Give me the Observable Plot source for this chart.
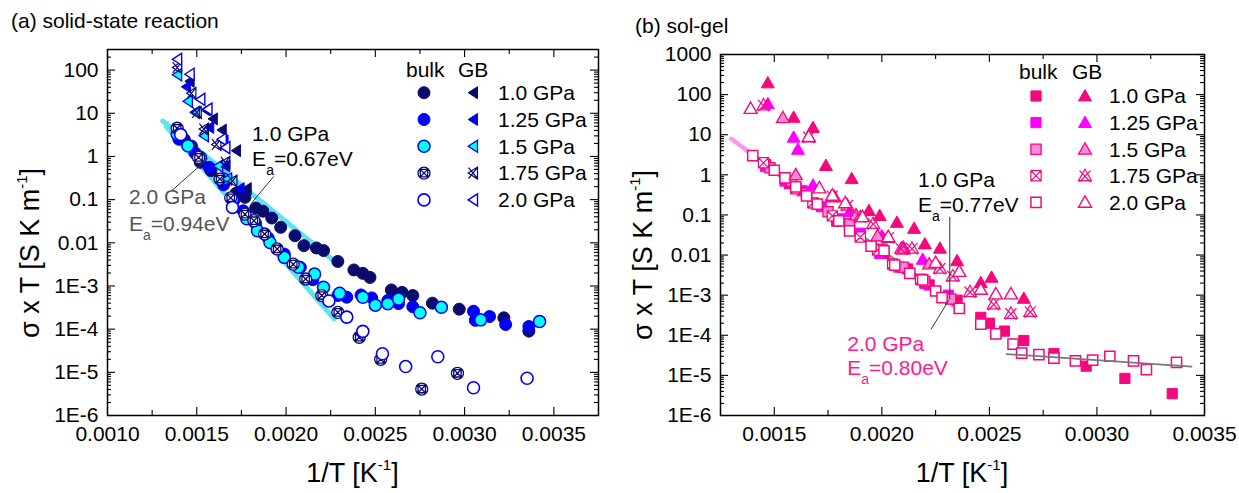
<!DOCTYPE html>
<html>
<head>
<meta charset="utf-8">
<script src="https://cdn.jsdelivr.net/npm/d3@7"></script>
<script src="https://cdn.jsdelivr.net/npm/@observablehq/plot@0.6"></script>
<style>
  body { margin: 0; background: #fff; }
  #wrap { position: relative; width: 1239px; height: 493px; overflow: hidden; background: #fff; }
  #wrap svg { position: absolute; top: 0; }
</style>
</head>
<body>
<div id="wrap"></div>
<script>
// ---------------------------------------------------------------
// σ·T versus 1/T.  Each point: [1/T (K^-1), σT (S K m^-1)]
// ---------------------------------------------------------------

// (a) solid-state reaction — bulk
const ssBulk100 = [[0.00143, 2.5], [0.00147, 1.74], [0.00152, 0.73], [0.00158, 0.47], [0.00165, 0.28], [0.00172, 0.14],
  [0.00177, 0.113], [0.00183, 0.064], [0.00187, 0.054], [0.00192, 0.0375], [0.00197, 0.0228], [0.00205, 0.0146],
  [0.00210, 0.0086], [0.00217, 0.0076], [0.00221, 0.0066], [0.00229, 0.0037], [0.00238, 0.00235], [0.00243, 0.00196],
  [0.00247, 0.00158], [0.00259, 8.1e-4], [0.00265, 7.1e-4], [0.00271, 6.0e-4], [0.00282, 4.0e-4], [0.00297, 2.9e-4],
  [0.00322, 1.83e-4], [0.00336, 9.0e-5]];
const ssBulk125 = [[0.00140, 2.5], [0.00149, 1.2], [0.00157, 0.56], [0.00165, 0.22], [0.00171, 0.1], [0.00176, 0.055],
  [0.00183, 0.028], [0.00190, 0.013], [0.00199, 5.5e-3], [0.00208, 2.7e-3], [0.00215, 1.4e-3], [0.00229, 6.0e-4],
  [0.00234, 5.5e-4], [0.00242, 6.2e-4], [0.00248, 5.3e-4], [0.00257, 4.6e-4], [0.00263, 3.9e-4], [0.00271, 3.3e-4],
  [0.00305, 2.6e-4], [0.00306, 1.6e-4], [0.00314, 1.96e-4], [0.00323, 1.28e-4], [0.00336, 1.15e-4]];
const ssBulk150 = [[0.00139, 3.3], [0.00145, 1.77], [0.00152, 0.95], [0.00165, 0.3], [0.00170, 0.1], [0.00178, 0.036],
  [0.00184, 0.019], [0.00191, 0.0102], [0.00199, 4.6e-3], [0.00207, 2.7e-3], [0.00216, 1.9e-3], [0.00221, 9.3e-4],
  [0.00230, 6.8e-4], [0.00243, 5.5e-4], [0.00250, 3.6e-4], [0.00257, 3.9e-4], [0.00263, 5.0e-4], [0.00275, 2.4e-4],
  [0.00287, 3.2e-4], [0.00309, 1.64e-4], [0.00342, 1.5e-4]];
const ssBulk175 = [[0.00139, 4.5], [0.00151, 0.95], [0.00163, 0.3], [0.00169, 0.11], [0.00177, 0.046], [0.00182, 0.0325],
  [0.00188, 0.016], [0.00195, 7.2e-3], [0.00204, 3.2e-3], [0.00211, 1.45e-3], [0.00220, 6.0e-4], [0.00229, 2.45e-4],
  [0.00241, 6.5e-5], [0.00253, 2.0e-5], [0.00276, 4.1e-6], [0.00296, 9.5e-6]];
const ssBulk200 = [[0.00141, 3.2], [0.00170, 0.066], [0.00224, 4.5e-4], [0.00234, 1.9e-4], [0.00243, 8.9e-5],
  [0.00254, 2.7e-5], [0.00267, 1.36e-5], [0.00285, 2.3e-5], [0.00305, 4.4e-6], [0.00335, 7.3e-6]];

// (a) solid-state reaction — grain boundary
const ssGb100 = [[0.00146, 55], [0.00155, 11.9], [0.00159, 7.4], [0.00164, 4.1], [0.00172, 1.36], [0.00178, 0.18]];
const ssGb125 = [[0.00144, 41], [0.00149, 10.5], [0.00157, 4.7], [0.00165, 2.3], [0.00166, 0.6], [0.00174, 0.18]];
const ssGb150 = [[0.00139, 78], [0.00145, 19], [0.00149, 10.5], [0.00154, 3.0], [0.00162, 0.6], [0.00167, 0.3]];
const ssGb175 = [[0.00139, 115], [0.00147, 29], [0.00150, 10.5], [0.00154, 4.3], [0.00161, 1.9], [0.00166, 0.73], [0.00170, 0.27]];
const ssGb200 = [[0.00139, 178], [0.00146, 80], [0.00152, 21], [0.00156, 12.5], [0.00164, 2.5], [0.00166, 1.6]];

// (b) sol-gel — bulk
const sgBulk100 = [[0.00146, 1.8], [0.00157, 0.6], [0.00168, 0.2], [0.00179, 0.07], [0.00190, 0.03], [0.00201, 0.011],
  [0.00212, 4.5e-3], [0.00222, 1.8e-3], [0.00235, 7.5e-4], [0.00246, 2.8e-4], [0.00250, 2.0e-4], [0.00257, 1.27e-4],
  [0.00266, 7.4e-5], [0.00280, 3.5e-5], [0.00295, 1.7e-5], [0.00313, 8.4e-6], [0.00335, 3.5e-6]];
const sgBulk125 = [[0.00146, 1.6], [0.00155, 0.7], [0.00163, 0.4], [0.00172, 0.16], [0.00180, 0.08], [0.00190, 0.035],
  [0.00199, 0.011], [0.00208, 5e-3], [0.00220, 1.97e-3], [0.00231, 1.0e-3]];
const sgBulk150 = [[0.00148, 1.5], [0.00158, 0.7], [0.00165, 0.35], [0.00175, 0.12], [0.00185, 0.06], [0.00200, 0.014],
  [0.00210, 5e-3], [0.00220, 2.2e-3], [0.00232, 8e-4]];
const sgBulk175 = [[0.00145, 2.0], [0.00160, 0.45], [0.00168, 0.2], [0.00177, 0.095], [0.00190, 0.028], [0.00198, 0.0133],
  [0.00205, 6e-3], [0.00218, 2.5e-3]];
const sgBulk200 = [[0.00140, 3.0], [0.00150, 1.3], [0.00155, 0.84], [0.00160, 0.5], [0.00165, 0.3], [0.00170, 0.186],
  [0.00180, 0.071], [0.00185, 0.04], [0.00195, 0.0167], [0.00201, 0.0128], [0.00206, 5.6e-3], [0.00213, 3.5e-3],
  [0.00219, 2.4e-3], [0.00225, 1.27e-3], [0.00228, 8.7e-4], [0.00236, 4.7e-4], [0.00246, 1.9e-4], [0.00253, 1.08e-4],
  [0.00261, 6.0e-5], [0.00265, 3.6e-5], [0.00273, 3.3e-5], [0.00280, 2.7e-5], [0.00290, 2.3e-5], [0.00298, 2.4e-5],
  [0.00306, 3.0e-5], [0.00317, 2.3e-5], [0.00323, 1.4e-5], [0.00337, 2.1e-5]];

// (b) sol-gel — grain boundary
const sgGb100 = [[0.00147, 195], [0.00159, 27], [0.00168, 15], [0.00174, 1.7], [0.00186, 0.8], [0.00194, 0.128],
  [0.00199, 0.096], [0.00207, 0.065], [0.00215, 0.046], [0.00220, 0.0188], [0.00227, 0.0147], [0.00235, 7.2e-3],
  [0.00246, 2.05e-3], [0.00251, 2.78e-3], [0.00266, 8.3e-4]];
const sgGb125 = [[0.00147, 59], [0.00159, 8.6], [0.00161, 4.3], [0.00168, 0.55], [0.00185, 0.12], [0.00200, 0.03],
  [0.00210, 0.016], [0.00219, 7.8e-3]];
const sgGb150 = [[0.00154, 26.5], [0.00160, 1.0], [0.00178, 0.28], [0.00188, 0.1], [0.00198, 0.03], [0.00210, 0.014], [0.00222, 6e-3]];
const sgGb175 = [[0.00145, 55], [0.00166, 8.8], [0.00177, 0.3], [0.00184, 0.175], [0.00190, 0.09], [0.00196, 0.061],
  [0.00203, 0.0275], [0.00209, 0.0147], [0.00214, 0.0147], [0.00227, 4.7e-3], [0.00233, 3.0e-3], [0.00241, 1.22e-3],
  [0.00252, 6.0e-4], [0.00260, 3.5e-4], [0.00269, 3.9e-4]];
const sgGb200 = [[0.00139, 45], [0.00166, 9.0], [0.00171, 0.47], [0.00177, 0.31], [0.00183, 0.2], [0.00191, 0.09],
  [0.00203, 0.0286], [0.00225, 6.5e-3], [0.00236, 3.9e-3], [0.00246, 1.4e-3], [0.00253, 1.07e-3], [0.00260, 1.07e-3]];

// low-temperature trend of the sol-gel bulk
const sgTail = [[0.00258, 3.4e-5], [0.00344, 1.66e-5]];

// Arrhenius fits: activation energy (eV), 1/T span, and a point the fit passes through
const ssFit100 = {ea: 0.67, span: [0.00131, 0.00226], through: [0.00178, 0.171]};
const ssFit200 = {ea: 0.94, span: [0.00133, 0.00227], through: [0.00180, 0.029]};
const sgFit100 = {ea: 0.77, span: [0.00140, 0.00232], through: [0.00232, 7.6e-4]};
const sgFit200 = {ea: 0.80, span: [0.00130, 0.00237], through: [0.00184, 0.0526]};

// leader lines from the fit labels
const ssLeaders = [[[0.00193, 0.34], [0.00181, 0.0866]], [[0.00136, 0.161], [0.00156, 0.875]]];
const sgLeaders = [[[0.002316, 0.0877], [0.002316, 8.1e-4]], [[0.00223, 1.44e-4], [0.00231, 7.3e-4]]];

// fit labels (anchored at the start of their baseline)
const ssNotes = [
  {x: 0.00181, y: 2.32, text: "1.0 GPa", color: "#000"},
  {x: 0.00181, y: 0.612, text: "Ea=0.67eV", color: "#000"},
  {x: 0.00112, y: 0.0787, text: "2.0 GPa", color: "#555"},
  {x: 0.00112, y: 0.0192, text: "Ea=0.94eV", color: "#555"}
];
const sgNotes = [
  {x: 0.002168, y: 0.491, text: "1.0 GPa", color: "#000"},
  {x: 0.002168, y: 0.1216, text: "Ea=0.77eV", color: "#000"},
  {x: 0.001839, y: 4.17e-5, text: "2.0 GPa", color: "#ff1a8c"},
  {x: 0.001839, y: 1.05e-5, text: "Ea=0.80eV", color: "#ff1a8c"}
];

// axis ticks and labels
const ssXTicks = [0.0010, 0.0015, 0.0020, 0.0025, 0.0030, 0.0035];
const ssXMinor = [0.00125, 0.00175, 0.00225, 0.00275, 0.00325];
const ssXLabels = ["0.0010", "0.0015", "0.0020", "0.0025", "0.0030", "0.0035"];
const sgXTicks = [0.0015, 0.0020, 0.0025, 0.0030, 0.0035];
const sgXMinor = [0.00125, 0.00175, 0.00225, 0.00275, 0.00325];
const sgXLabels = ["0.0015", "0.0020", "0.0025", "0.0030", "0.0035"];
const ssYTicks = [1e-6, 1e-5, 1e-4, 1e-3, 1e-2, 1e-1, 1, 10, 100];
const ssYLabels = ["1E-6", "1E-5", "1E-4", "1E-3", "0.01", "0.1", "1", "10", "100"];
const sgYTicks = [1e-6, 1e-5, 1e-4, 1e-3, 1e-2, 1e-1, 1, 10, 100, 1000];
const sgYLabels = ["1E-6", "1E-5", "1E-4", "1E-3", "0.01", "0.1", "1", "10", "100", "1000"];
const pressures = ["1.0 GPa", "1.25 GPa", "1.5 GPa", "1.75 GPa", "2.0 GPa"];

// ---------------------------------------------------------------
// marker shapes (size = π r², as Plot and d3.symbol pass it)
// ---------------------------------------------------------------
const rOf = size => Math.sqrt(size / Math.PI);
const circle = d3.symbolCircle;
const triLeft = {draw(c, size) { const r = rOf(size);
  c.moveTo(-0.8 * r, 0); c.lineTo(0.75 * r, -r); c.lineTo(0.75 * r, r); c.closePath(); }};
const triLeftX = {draw(c, size) { const r = rOf(size);
  c.moveTo(-0.8 * r, 0); c.lineTo(0.75 * r, -r); c.lineTo(0.75 * r, r); c.closePath();
  c.moveTo(-0.75 * r, -0.9 * r); c.lineTo(0.75 * r, 0.9 * r); c.moveTo(-0.75 * r, 0.9 * r); c.lineTo(0.75 * r, -0.9 * r); }};
const circleX = {draw(c, size) { const r = rOf(size), s = 0.62 * r;
  c.moveTo(r, 0); c.arc(0, 0, r, 0, 2 * Math.PI);
  c.moveTo(-s, -s); c.lineTo(s, -s); c.lineTo(s, s); c.lineTo(-s, s); c.closePath();
  c.moveTo(-s, -s); c.lineTo(s, s); c.moveTo(s, -s); c.lineTo(-s, s); }};
const square = {draw(c, size) { const s = 0.85 * rOf(size); c.rect(-s, -s, 2 * s, 2 * s); }};
const squareX = {draw(c, size) { const s = 0.85 * rOf(size);
  c.rect(-s, -s, 2 * s, 2 * s); c.moveTo(-s, -s); c.lineTo(s, s); c.moveTo(s, -s); c.lineTo(-s, s); }};
const triUp = {draw(c, size) { const r = rOf(size);
  c.moveTo(0, -r); c.lineTo(r, 0.75 * r); c.lineTo(-r, 0.75 * r); c.closePath(); }};
const triUpX = {draw(c, size) { const r = rOf(size);
  c.moveTo(0, -r); c.lineTo(r, 0.75 * r); c.lineTo(-r, 0.75 * r); c.closePath();
  c.moveTo(-0.85 * r, -0.8 * r); c.lineTo(0.85 * r, 0.95 * r); c.moveTo(0.85 * r, -0.8 * r); c.lineTo(-0.85 * r, 0.95 * r); }};

const navy = "#0b0b6e", blue = "#0000f5", cyan = "#00ffff";
const pink = "#f5087c", magenta = "#ff00ff", lightPink = "#ff88d8";

const ssBulk = [
  {data: ssBulk100, symbol: circle, r: 6, fill: navy, stroke: navy, sw: 1},
  {data: ssBulk125, symbol: circle, r: 6, fill: blue, stroke: blue, sw: 1},
  {data: ssBulk150, symbol: circle, r: 6, fill: cyan, stroke: blue, sw: 1.5},
  {data: ssBulk175, symbol: circleX, r: 6, fill: "white", stroke: navy, sw: 1.3},
  {data: ssBulk200, symbol: circle, r: 6, fill: "white", stroke: blue, sw: 1.6}
];
const ssGb = [
  {data: ssGb100, symbol: triLeft, r: 6, fill: navy, stroke: navy, sw: 1},
  {data: ssGb125, symbol: triLeft, r: 6, fill: blue, stroke: blue, sw: 1},
  {data: ssGb150, symbol: triLeft, r: 6, fill: cyan, stroke: blue, sw: 1.3},
  {data: ssGb175, symbol: triLeftX, r: 6, fill: "none", stroke: navy, sw: 1.2},
  {data: ssGb200, symbol: triLeft, r: 6, fill: "white", stroke: blue, sw: 1.4}
];
const sgBulk = [
  {data: sgBulk100, symbol: square, r: 6, fill: pink, stroke: pink, sw: 1},
  {data: sgBulk125, symbol: square, r: 6, fill: magenta, stroke: magenta, sw: 1},
  {data: sgBulk150, symbol: square, r: 6, fill: lightPink, stroke: pink, sw: 1.3},
  {data: sgBulk175, symbol: squareX, r: 6, fill: "white", stroke: pink, sw: 1.2},
  {data: sgBulk200, symbol: square, r: 6, fill: "white", stroke: pink, sw: 1.5}
];
const sgGb = [
  {data: sgGb100, symbol: triUp, r: 6.5, fill: pink, stroke: pink, sw: 1},
  {data: sgGb125, symbol: triUp, r: 6.5, fill: magenta, stroke: magenta, sw: 1},
  {data: sgGb150, symbol: triUp, r: 6.5, fill: lightPink, stroke: pink, sw: 1.3},
  {data: sgGb175, symbol: triUpX, r: 6.5, fill: "none", stroke: pink, sw: 1.2},
  {data: sgGb200, symbol: triUp, r: 6.5, fill: "white", stroke: pink, sw: 1.4}
];

// straight Arrhenius line on a log axis: log10(σT) falls by Ea/(k ln10) per unit 1/T
const kB = 8.617e-5;
function arrhenius(fit) {
  const slope = fit.ea / (kB * Math.LN10);
  const [x0, y0] = fit.through;
  return fit.span.map(x => [x, y0 * Math.pow(10, -slope * (x - x0))]);
}

function minorLog(hi) {
  const out = [];
  for (let e = -6; e <= 3; e++) for (let k = 2; k <= 9; k++) {
    const v = k * Math.pow(10, e);
    if (v < hi) out.push(v);
  }
  return out;
}

const FONT = '"Liberation Sans", Arial, Helvetica, sans-serif';

function drawPanel(cfg) {
  const pw = cfg.width - cfg.ml - cfg.mr, ph = cfg.height - cfg.mt - cfg.mb;
  const yMinor = minorLog(cfg.yDomain[1]);
  const tick = {stroke: "black", strokeWidth: 1.1};
  const dots = s => Plot.dot(s.data, {x: d => d[0], y: d => d[1], symbol: s.symbol, r: s.r,
    fill: s.fill, stroke: s.stroke, strokeWidth: s.sw});
  const chart = Plot.plot({
    width: cfg.width, height: cfg.height,
    marginLeft: cfg.ml, marginRight: cfg.mr, marginTop: cfg.mt, marginBottom: cfg.mb,
    style: {fontFamily: FONT, fontSize: "21px", color: "black", background: "white", overflow: "visible"},
    color: {type: "identity"},
    x: {domain: cfg.xDomain, ticks: cfg.xTicks, tickFormat: d => cfg.xLabels[cfg.xTicks.indexOf(d)],
        tickSize: 0, tickPadding: 11, label: null},
    y: {type: "log", domain: cfg.yDomain, ticks: cfg.yTicks, tickFormat: d => cfg.yLabels[cfg.yTicks.indexOf(d)],
        tickSize: 0, tickPadding: 9, label: null},
    marks: [
      ...cfg.under,
      ...cfg.bulk.map(dots),
      ...cfg.gb.map(dots),
      ...cfg.over,
      ...cfg.leaders.map(l => Plot.line(l, {x: d => d[0], y: d => d[1], stroke: "#333", strokeWidth: 1})),
      Plot.text(cfg.notes, {x: "x", y: "y", text: "text", fill: "color", textAnchor: "start",
        lineAnchor: "bottom", fontSize: 21}),
      // inward ticks on all four sides
      Plot.tickX(cfg.xTicks, {x: d => d, insetTop: ph - 8, ...tick}),
      Plot.tickX(cfg.xTicks, {x: d => d, insetBottom: ph - 8, ...tick}),
      Plot.tickX(cfg.xMinor, {x: d => d, insetTop: ph - 5, ...tick}),
      Plot.tickX(cfg.xMinor, {x: d => d, insetBottom: ph - 5, ...tick}),
      Plot.tickY(cfg.yTicks, {y: d => d, insetRight: pw - 8, ...tick}),
      Plot.tickY(cfg.yTicks, {y: d => d, insetLeft: pw - 8, ...tick}),
      Plot.tickY(yMinor, {y: d => d, insetRight: pw - 4, ...tick}),
      Plot.tickY(yMinor, {y: d => d, insetLeft: pw - 4, ...tick}),
      Plot.frame({stroke: "black", strokeWidth: 1.5})
    ]
  });
  chart.style.left = cfg.left + "px";
  const svg = d3.select(chart);

  // subscript "a" in the activation-energy labels
  svg.selectAll("text").each(function () {
    const s = this.textContent;
    if (this.childElementCount === 0 && s.startsWith("Ea=")) {
      this.textContent = "";
      const t = d3.select(this);
      t.append("tspan").text("E");
      t.append("tspan").attr("font-size", 14).attr("dy", 9).text("a");
      t.append("tspan").attr("dy", -9).text(s.slice(2));
    }
  });

  // panel title
  svg.append("text").attr("x", cfg.titleX).attr("y", cfg.titleY).attr("text-anchor", "start")
    .attr("font-size", 21).text(cfg.title);

  // axis titles
  const xt = svg.append("text").attr("x", cfg.ml + pw / 2).attr("y", 482)
    .attr("text-anchor", "middle").attr("font-size", 27);
  xt.append("tspan").text("1/T [K");
  xt.append("tspan").attr("font-size", 15).attr("dy", -12).text("-1");
  xt.append("tspan").attr("dy", 12).text("]");
  const yt = svg.append("text").attr("transform", `translate(${cfg.ml - 68},${cfg.yTitleY}) rotate(-90)`)
    .attr("text-anchor", "middle").attr("font-size", 27);
  yt.append("tspan").text("σ x T [S K m");
  yt.append("tspan").attr("font-size", 15).attr("dy", -12).text("-1");
  yt.append("tspan").attr("dy", 12).text("]");

  // legend: bulk and GB marker for each pressure
  const L = cfg.legend;
  const g = svg.append("g").attr("font-size", 21).attr("text-anchor", "start");
  g.append("text").attr("x", L.bulkX).attr("y", L.headY).text("bulk");
  g.append("text").attr("x", L.gbX).attr("y", L.headY).text("GB");
  pressures.forEach((label, i) => {
    const y = L.row0 + i * L.dy;
    [[cfg.bulk[i], L.bulkSym], [cfg.gb[i], L.gbSym]].forEach(([s, x]) => {
      g.append("path").attr("transform", `translate(${x},${y})`)
        .attr("d", d3.symbol(s.symbol, Math.PI * s.r * s.r)())
        .attr("fill", s.fill).attr("stroke", s.stroke).attr("stroke-width", s.sw);
    });
    g.append("text").attr("x", L.labelX).attr("y", y + 7.3).text(label);
  });

  document.getElementById("wrap").appendChild(chart);
}

drawPanel({
  left: 0, width: 620, height: 493, ml: 107, mr: 22, mt: 49, mb: 78,
  xDomain: [0.0010, 0.00375], yDomain: [1e-6, 300],
  xTicks: ssXTicks, xMinor: ssXMinor, xLabels: ssXLabels, yTicks: ssYTicks, yLabels: ssYLabels,
  bulk: ssBulk, gb: ssGb,
  under: [
    Plot.line(arrhenius(ssFit100), {x: d => d[0], y: d => d[1], stroke: "#5ee4ee", strokeWidth: 5}),
    Plot.line(arrhenius(ssFit200), {x: d => d[0], y: d => d[1], stroke: "#5ee4ee", strokeWidth: 5})
  ],
  over: [],
  leaders: ssLeaders, notes: ssNotes,
  title: "(a) solid-state reaction", titleX: 11, titleY: 27.5, yTitleY: 253,
  legend: {bulkX: 406, gbX: 458, headY: 77, row0: 92.7, dy: 26.8, bulkSym: 424, gbSym: 473, labelX: 498}
});

drawPanel({
  left: 620, width: 619, height: 493, ml: 100, mr: 35, mt: 54, mb: 78,
  xDomain: [0.00125, 0.0035], yDomain: [1e-6, 1000],
  xTicks: sgXTicks, xMinor: sgXMinor, xLabels: sgXLabels, yTicks: sgYTicks, yLabels: sgYLabels,
  bulk: sgBulk, gb: sgGb,
  under: [
    Plot.line(arrhenius(sgFit200), {x: d => d[0], y: d => d[1], stroke: "#f39af0", strokeWidth: 4.5}),
    Plot.line(arrhenius(sgFit100), {x: d => d[0], y: d => d[1], stroke: "#8a8a8a", strokeWidth: 2.5})
  ],
  over: [
    Plot.line(sgTail, {x: d => d[0], y: d => d[1], stroke: "#777", strokeWidth: 1.8})
  ],
  leaders: sgLeaders, notes: sgNotes,
  title: "(b) sol-gel", titleX: 15, titleY: 32.5, yTitleY: 255,
  legend: {bulkX: 399, gbX: 452, headY: 79, row0: 96, dy: 26.6, bulkSym: 416, gbSym: 465, labelX: 489}
});
</script>
</body>
</html>
